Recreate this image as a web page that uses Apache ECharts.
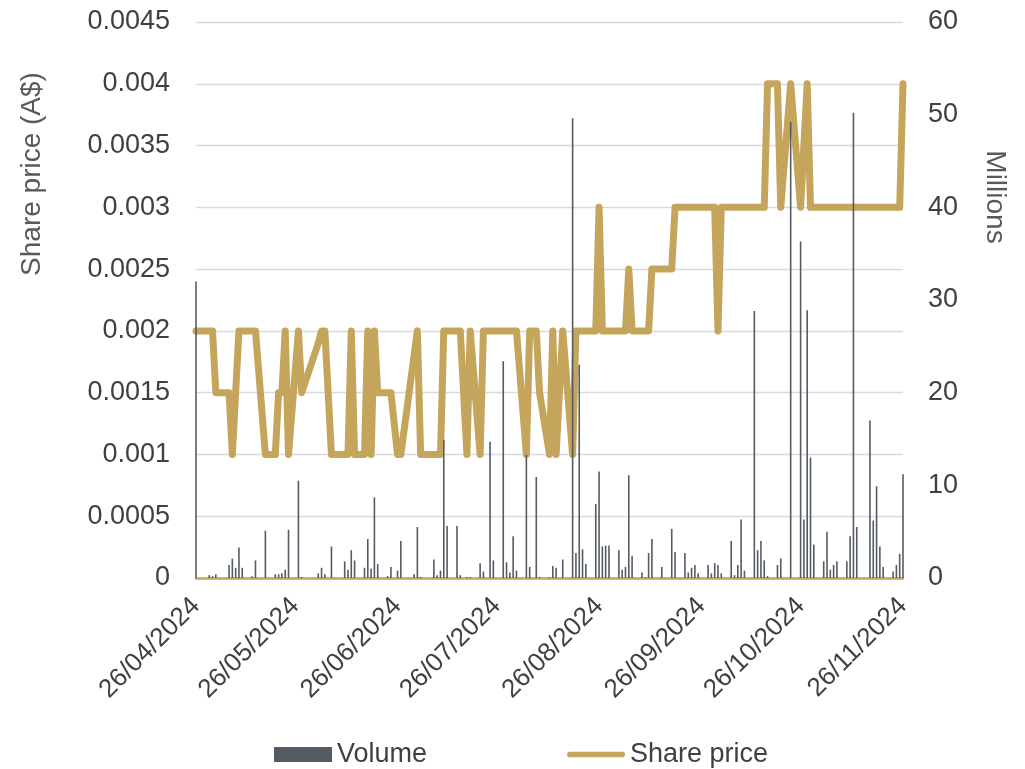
<!DOCTYPE html>
<html lang="en">

<head>
    <meta charset="UTF-8">
    <title>Share price and volume</title>
    <style>
        html, body {
            margin: 0;
            padding: 0;
            background: #fff;
        }

        #main {
            width: 1025px;
            height: 769px;
        }
    </style>
</head>

<body>
    <div id="main"></div>
    <script src="https://cdn.jsdelivr.net/npm/echarts@6/dist/echarts.min.js"></script>
    <script>
        // x axis range and the dates that get a label
        const startDate = '26/04/2024';
        const endDate = '26/11/2024';
        const tickLabels = ['26/04/2024', '26/05/2024', '26/06/2024', '26/07/2024',
            '26/08/2024', '26/09/2024', '26/10/2024', '26/11/2024'];

        // days with trades
        const tradeDates = [
            '26/04/2024', '30/04/2024', '01/05/2024', '02/05/2024', '06/05/2024', '07/05/2024', '08/05/2024', '09/05/2024',
            '10/05/2024', '13/05/2024', '14/05/2024', '17/05/2024', '20/05/2024', '21/05/2024', '22/05/2024', '23/05/2024',
            '24/05/2024', '27/05/2024', '28/05/2024', '02/06/2024', '03/06/2024', '04/06/2024', '06/06/2024', '10/06/2024',
            '11/06/2024', '12/06/2024', '13/06/2024', '16/06/2024', '17/06/2024', '18/06/2024', '19/06/2024', '20/06/2024',
            '23/06/2024', '24/06/2024', '26/06/2024', '27/06/2024', '01/07/2024', '02/07/2024', '03/07/2024', '07/07/2024',
            '08/07/2024', '09/07/2024', '10/07/2024', '11/07/2024', '14/07/2024', '15/07/2024', '17/07/2024', '18/07/2024',
            '21/07/2024', '22/07/2024', '24/07/2024', '25/07/2024', '28/07/2024', '29/07/2024', '30/07/2024', '31/07/2024',
            '01/08/2024', '04/08/2024', '05/08/2024', '07/08/2024', '08/08/2024', '11/08/2024', '12/08/2024', '13/08/2024',
            '15/08/2024', '18/08/2024', '19/08/2024', '20/08/2024', '21/08/2024', '22/08/2024', '25/08/2024', '26/08/2024',
            '27/08/2024', '28/08/2024', '29/08/2024', '01/09/2024', '02/09/2024', '03/09/2024', '04/09/2024', '05/09/2024',
            '08/09/2024', '09/09/2024', '10/09/2024', '11/09/2024', '14/09/2024', '17/09/2024', '18/09/2024', '21/09/2024',
            '22/09/2024', '23/09/2024', '24/09/2024', '25/09/2024', '28/09/2024', '29/09/2024', '30/09/2024', '01/10/2024',
            '02/10/2024', '05/10/2024', '06/10/2024', '07/10/2024', '08/10/2024', '09/10/2024', '12/10/2024', '13/10/2024',
            '14/10/2024', '15/10/2024', '16/10/2024', '19/10/2024', '20/10/2024', '23/10/2024', '26/10/2024', '27/10/2024',
            '28/10/2024', '29/10/2024', '30/10/2024', '02/11/2024', '03/11/2024', '04/11/2024', '05/11/2024', '06/11/2024',
            '09/11/2024', '10/11/2024', '11/11/2024', '12/11/2024', '16/11/2024', '17/11/2024', '18/11/2024', '19/11/2024',
            '20/11/2024', '23/11/2024', '24/11/2024', '25/11/2024', '26/11/2024'
        ];

        // share price, A$
        const sharePrice = [
            0.002, 0.002, 0.002, 0.0015, 0.0015, 0.001, 0.0015, 0.002,
            0.002, 0.002, 0.002, 0.001, 0.001, 0.0015, 0.0015, 0.002,
            0.001, 0.002, 0.0015, 0.0019, 0.002, 0.002, 0.001, 0.001,
            0.001, 0.002, 0.001, 0.001, 0.002, 0.001, 0.002, 0.0015,
            0.0015, 0.0015, 0.001, 0.001, 0.0018, 0.002, 0.001, 0.001,
            0.001, 0.001, 0.002, 0.002, 0.002, 0.002, 0.001, 0.002,
            0.001, 0.002, 0.002, 0.002, 0.002, 0.002, 0.002, 0.002,
            0.002, 0.001, 0.002, 0.002, 0.0015, 0.001, 0.002, 0.001,
            0.002, 0.001, 0.002, 0.002, 0.002, 0.002, 0.002, 0.003,
            0.002, 0.002, 0.002, 0.002, 0.002, 0.002, 0.0025, 0.002,
            0.002, 0.002, 0.002, 0.0025, 0.0025, 0.0025, 0.003, 0.003,
            0.003, 0.003, 0.003, 0.003, 0.003, 0.003, 0.003, 0.002,
            0.003, 0.003, 0.003, 0.003, 0.003, 0.003, 0.003, 0.003,
            0.003, 0.003, 0.004, 0.004, 0.003, 0.004, 0.003, 0.0035,
            0.004, 0.003, 0.003, 0.003, 0.003, 0.003, 0.003, 0.003,
            0.003, 0.003, 0.003, 0.003, 0.003, 0.003, 0.003, 0.003,
            0.003, 0.003, 0.003, 0.003, 0.004
        ];

        // volume, millions of shares
        const volume = [
            32.0, 0.3, 0.2, 0.4, 1.4, 2.1, 1.1, 3.3,
            1.1, 0.2, 1.9, 5.1, 0.4, 0.4, 0.5, 0.9,
            5.2, 10.5, 0.1, 0.5, 1.1, 0.4, 3.4, 1.8,
            0.9, 3.0, 1.9, 1.1, 4.2, 1.0, 8.7, 1.5,
            0.2, 1.2, 0.8, 4.0, 0.4, 5.5, 0.1, 2.0,
            0.3, 0.8, 14.9, 5.6, 5.6, 0.3, 0.1, 0.1,
            1.6, 0.7, 14.7, 1.9, 23.4, 1.7, 0.6, 4.5,
            0.8, 13.3, 1.2, 10.9, 0.1, 0.1, 1.3, 1.1,
            2.0, 49.6, 2.7, 23.0, 3.1, 1.5, 8.0, 11.5,
            3.4, 3.5, 3.5, 3.0, 0.9, 1.2, 11.1, 2.4,
            0.6, 0.1, 2.7, 4.2, 1.2, 5.3, 2.8, 2.7,
            0.6, 1.1, 1.4, 0.5, 1.4, 0.5, 1.6, 1.4,
            0.5, 4.0, 0.3, 1.4, 6.3, 0.8, 28.8, 3.0,
            4.0, 1.9, 0.2, 1.4, 2.1, 49.2, 36.3, 6.3,
            28.9, 13.0, 3.6, 1.8, 5.0, 0.9, 1.4, 1.8,
            1.8, 4.5, 50.2, 5.5, 17.0, 6.2, 9.9, 3.4,
            1.2, 0.7, 1.4, 2.6, 11.2
        ];

        const font = "'Liberation Sans', Arial, sans-serif";
        const textColor = '#404040';
        const gold = '#c4a55b';
        const barColor = '#555b63';

        function pad(n) {
            return n < 10 ? '0' + n : '' + n;
        }

        // every calendar day from start to end, so the axis is a date scale
        function calendarDays(from, to) {
            const a = from.split('/');
            const b = to.split('/');
            const d = new Date(+a[2], +a[1] - 1, +a[0]);
            const end = new Date(+b[2], +b[1] - 1, +b[0]);
            const out = [];
            while (d <= end) {
                out.push(pad(d.getDate()) + '/' + pad(d.getMonth() + 1) + '/' + d.getFullYear());
                d.setDate(d.getDate() + 1);
            }
            return out;
        }

        const days = calendarDays(startDate, endDate);

        var myChart = echarts.init(document.getElementById('main'));

        option = {
            animation: false,
            textStyle: {
                fontFamily: font
            },
            grid: {
                left: 196,
                right: 122,
                top: 22,
                bottom: 191,
                containLabel: false,
                outerBoundsMode: 'none'
            },
            legend: {
                left: 269,
                top: 736,
                itemWidth: 58,
                itemHeight: 15,
                itemGap: 140,
                symbolKeepAspect: true,
                textStyle: {
                    fontSize: 27,
                    color: textColor,
                    fontFamily: font
                },
                data: [{
                    name: 'Volume',
                    icon: 'rect'
                }, {
                    name: 'Share price',
                    icon: 'path://M3,0 H59 A3,3 0 0 1 59,6 H3 A3,3 0 0 1 3,0 Z'
                }]
            },
            xAxis: {
                type: 'category',
                data: days,
                boundaryGap: false,
                axisLine: {
                    lineStyle: {
                        color: gold,
                        width: 2.5
                    }
                },
                axisTick: {
                    show: false
                },
                splitLine: {
                    show: false
                },
                axisLabel: {
                    rotate: 45,
                    margin: 24,
                    fontSize: 26,
                    color: textColor,
                    hideOverlap: false,
                    interval(index, value) {
                        return tickLabels.indexOf(value) >= 0;
                    }
                }
            },
            yAxis: [{
                type: 'value',
                min: 0,
                max: 0.0045,
                interval: 0.0005,
                axisLine: {
                    show: false
                },
                axisTick: {
                    show: false
                },
                splitLine: {
                    lineStyle: {
                        color: '#d9d9de',
                        width: 1.3
                    }
                },
                axisLabel: {
                    fontSize: 27,
                    color: textColor,
                    margin: 26,
                    formatter(v) {
                        return String(+v.toFixed(4));
                    }
                }
            }, {
                type: 'value',
                min: 0,
                max: 60,
                interval: 10,
                axisLine: {
                    show: false
                },
                axisTick: {
                    show: false
                },
                splitLine: {
                    show: false
                },
                axisLabel: {
                    fontSize: 27,
                    color: textColor,
                    margin: 25
                }
            }],
            graphic: [{
                type: 'text',
                x: 32,
                y: 174,
                rotation: Math.PI / 2,
                style: {
                    text: 'Share price (A$)',
                    fontSize: 28,
                    fontFamily: font,
                    fill: '#595959',
                    align: 'center',
                    verticalAlign: 'middle'
                }
            }, {
                type: 'text',
                x: 995,
                y: 197,
                rotation: -Math.PI / 2,
                style: {
                    text: 'Millions',
                    fontSize: 28,
                    fontFamily: font,
                    fill: '#595959',
                    align: 'center',
                    verticalAlign: 'middle'
                }
            }],
            series: [{
                name: 'Volume',
                type: 'bar',
                yAxisIndex: 1,
                barWidth: 1.6,
                z: 3,
                itemStyle: {
                    color: barColor
                },
                data: tradeDates.map((d, i) => [d, volume[i]])
            }, {
                name: 'Share price',
                type: 'line',
                yAxisIndex: 0,
                symbol: 'none',
                z: 2,
                lineStyle: {
                    color: gold,
                    width: 7,
                    join: 'round',
                    cap: 'round'
                },
                itemStyle: {
                    color: gold
                },
                data: tradeDates.map((d, i) => [d, sharePrice[i]])
            }]
        };
        myChart.setOption(option);
    </script>

</body>

</html>
